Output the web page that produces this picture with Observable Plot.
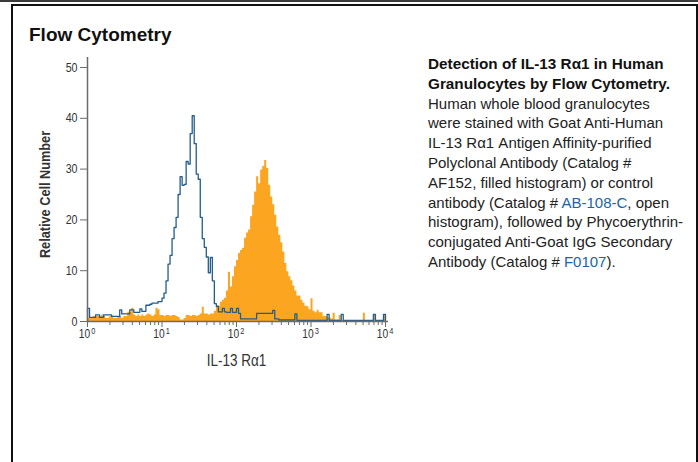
<!DOCTYPE html>
<html>
<head>
<meta charset="utf-8">
<script src="https://cdn.jsdelivr.net/npm/d3@7"></script>
<script src="https://cdn.jsdelivr.net/npm/@observablehq/plot@0.6"></script>
<style>
  html, body { margin: 0; padding: 0; background: #fff; }
  #page { position: relative; width: 698px; height: 462px; overflow: hidden; background: #fff; }
  #topband { position: absolute; left: 0; top: 0; width: 698px; height: 2px; background: #3a3a3a; }
  #box { position: absolute; left: 11px; top: 4px; width: 700px; height: 470px; border: 2px solid #111; box-sizing: border-box; border-right-width: 0; }
  #rightedge { position: absolute; left: 696px; top: 4px; width: 2px; height: 460px; background: #111; }
  #title { position: absolute; left: 29px; top: 24px; font: bold 19px "Liberation Sans", Arial, sans-serif; color: #111; white-space: nowrap; }
  #desc { position: absolute; left: 428px; top: 54px; font: 15px/19.8px "Liberation Sans", Arial, sans-serif; color: #222; white-space: nowrap; }
  #desc b { color: #111; font-size: 15.3px; }
  #desc .lnk { color: #1c64a8; }
  #chart { position: absolute; left: 13px; top: 8px; }
</style>
</head>
<body>
<div id="page">
  <div id="topband"></div>
  <div id="box"></div>
  <div id="rightedge"></div>
  <div id="title">Flow Cytometry</div>
  <div id="desc"><b>Detection of IL-13 Rα1 in Human<br>Granulocytes by Flow Cytometry.</b><br>Human whole blood granulocytes<br>were stained with Goat Anti-Human<br>IL-13 Rα1 Antigen Affinity-purified<br>Polyclonal Antibody (Catalog #<br>AF152, filled histogram) or control<br>antibody (Catalog # <span class="lnk">AB-108-C</span>, open<br>histogram), followed by Phycoerythrin-<br>conjugated Anti-Goat IgG Secondary<br>Antibody (Catalog # <span class="lnk">F0107</span>).</div>
  <div id="chart"></div>
</div>
<script>
// Open histogram: control antibody (148 channels over 4 decades)
const controlCounts = [
  2.6, 0.8, 0.8, 0.8, 1.3, 1.3, 0.8, 0.8, 1.3, 1.3,
  1.3, 1.3, 1.0, 1.0, 1.0, 1.0, 2.3, 1.5, 1.5, 1.5,
  1.5, 2.3, 2.3, 1.8, 1.8, 1.8, 2.5, 2.0, 2.0, 3.2,
  3.2, 3.4, 3.6, 3.6, 3.6, 3.9, 3.9, 4.6, 5.6, 8.0,
  11.3, 13.0, 16.3, 18.5, 20.5, 25.0, 28.5, 26.8, 27.0, 31.5,
  31.0, 37.0, 40.5, 35.0, 29.0, 28.0, 20.5, 16.3, 14.6, 12.7,
  9.6, 12.6, 8.0, 3.5, 3.0, 1.9, 1.9, 2.6, 1.9, 1.8,
  1.8, 2.6, 1.8, 1.8, 2.6, 1.6, 0.5, 0.5, 0.5, 0.5,
  0.5, 0.5, 0.5, 0.5, 1.6, 1.6, 1.6, 1.6, 1.6, 1.6,
  1.6, 1.6, 2.2, 0.5, 0.5, 0.3, 0.3, 0.3, 0.3, 0.3,
  0.3, 0.3, 0.3, 1.5, 0.2, 0.2, 0.2, 0.2, 0.2, 0.2,
  0.2, 0.2, 0.2, 0.2, 0.2, 0.2, 0.2, 0.2, 0.2, 1.4,
  0.2, 0.2, 0.2, 0.2, 0.2, 0.2, 1.4, 0.2, 0.2, 0.2,
  0.2, 0.2, 0.2, 0.2, 0.2, 0.2, 0.2, 0.2, 0.2, 0.2,
  0.2, 0.2, 1.4, 0.2, 0.2, 0.2, 0.2, 1.4
];
// Filled histogram: AF152 stained
const stainedCounts = [
  0.6, 0.6, 0.6, 1.0, 1.0, 1.0, 1.0, 1.3, 1.0, 0.6,
  0.6, 1.0, 1.0, 0.6, 0.6, 1.0, 1.0, 0.6, 1.0, 1.0,
  1.8, 1.8, 2.6, 1.3, 1.0, 1.3, 1.0, 1.3, 1.0, 1.3,
  1.5, 1.3, 1.0, 1.3, 2.6, 2.3, 1.2, 1.2, 1.0, 1.2,
  1.2, 1.0, 1.2, 1.2, 1.0, 0.8, 0.3, 0.3, 0.6, 1.2,
  1.2, 1.0, 1.2, 1.2, 1.0, 1.2, 1.5, 2.8, 1.5, 1.5,
  1.3, 1.5, 1.5, 2.0, 2.9, 3.0, 3.8, 4.2, 4.6, 6.0,
  9.7, 6.8, 8.8, 10.8, 12.0, 13.4, 14.0, 14.4, 16.4, 17.4,
  18.0, 20.6, 22.9, 25.5, 28.5, 27.1, 29.8, 30.5, 31.7, 30.1,
  26.8, 24.5, 23.0, 20.9, 18.6, 17.0, 15.5, 13.7, 11.4, 9.8,
  8.8, 8.0, 7.0, 6.0, 5.0, 5.0, 4.2, 3.6, 3.0, 2.9,
  2.3, 4.5, 2.0, 1.7, 2.2, 1.7, 1.7, 1.0, 1.0, 0.7,
  0.7, 0.5, 1.6, 0.3, 0.3, 1.2, 0.2, 0.2, 0.2, 0.2,
  0.2, 0.2, 0.2, 0.2, 0.2, 0.2, 0.2, 1.6, 0.2, 0.2,
  0.2, 0.2, 1.2, 0.2, 0.2, 0.2, 0.2, 1.2
];
const xDomain = [1, 10000];
const yTicks = [0, 10, 20, 30, 40, 50];
const majorTicks = [1, 10, 100, 1000, 10000];
const majorExponents = ["0", "1", "2", "3", "4"];
const minorTicks = [2,3,4,5,6,7,8,9, 20,30,40,50,60,70,80,90, 200,300,400,500,600,700,800,900, 2000,3000,4000,5000,6000,7000,8000,9000];
const xLabel = "IL-13 R\u03b11";
const yLabel = "Relative Cell Number";

const n = controlCounts.length;
const decades = Math.log10(xDomain[1] / xDomain[0]);
const edge = i => xDomain[0] * Math.pow(10, i * decades / n);

const stainedData = stainedCounts.map((v, i) => ({x: edge(i), y: v}));
stainedData.push({x: edge(n), y: stainedCounts[n - 1]});
const controlData = [{x: edge(0), y: 0}]
  .concat(controlCounts.map((v, i) => ({x: edge(i), y: v})))
  .concat([{x: edge(n), y: controlCounts[n - 1]}, {x: edge(n), y: 0}]);

const chartFont = "'Liberation Sans', Arial, sans-serif";
const axisColor = "#6b6b6b";
const textColor = "#333";

const chart = Plot.plot({
  width: 400,
  height: 380,
  marginLeft: 74,
  marginRight: 28,
  marginTop: 59,
  marginBottom: 67,
  style: {background: "transparent", fontFamily: chartFont, color: textColor, overflow: "visible"},
  x: {type: "log", domain: xDomain},
  y: {domain: [0, 50]},
  marks: [
    Plot.areaY(stainedData, {x: "x", y: "y", curve: "step-after", fill: "#fba520"}),
    Plot.lineY(controlData, {x: "x", y: "y", curve: "step-after", stroke: "#245d8c", strokeWidth: 1.3}),
    Plot.ruleX([xDomain[0]], {stroke: axisColor, strokeWidth: 1.5, insetTop: -10}),
    Plot.ruleY([0], {stroke: axisColor, strokeWidth: 1.5, insetRight: -3}),
    Plot.axisY({ticks: yTicks, tickSize: 7, tickPadding: 3, stroke: axisColor, fill: textColor, fontSize: 13, label: null}),
    Plot.axisX({ticks: minorTicks, tickSize: 4, stroke: axisColor, tickFormat: () => "", label: null}),
    Plot.axisX({ticks: majorTicks, tickSize: 6, stroke: axisColor, tickFormat: () => "", label: null}),
    Plot.text(majorTicks, {x: d => d, y: () => 0, text: () => "10", dx: -3, dy: 16.5, lineAnchor: "bottom", textAnchor: "middle", fontSize: 12.5, fill: textColor}),
    Plot.text(majorTicks, {x: d => d, y: () => 0, text: (d, i) => majorExponents[i], dx: 3.8, dy: 12.5, lineAnchor: "bottom", textAnchor: "start", fontSize: 9, fill: textColor, className: "expo"}),
    Plot.text([xLabel], {text: d => d, frameAnchor: "bottom", dy: 44, lineAnchor: "bottom", textAnchor: "middle", fontSize: 16.5, fill: textColor}),
    Plot.text([yLabel], {text: d => d, frameAnchor: "left", rotate: -90, dx: -42, lineAnchor: "middle", textAnchor: "middle", fontSize: 15.5, fontWeight: "bold", fill: textColor})
  ]
});
document.getElementById("chart").appendChild(chart);
// Condense the chart's lettering to mimic the narrow face of the original
chart.querySelectorAll("text").forEach(t => {
  const w = t.getComputedTextLength();
  if (w > 0) {
    t.setAttribute("textLength", (w * 0.82).toFixed(2));
    t.setAttribute("lengthAdjust", "spacingAndGlyphs");
  }
});
</script>
</body>
</html>
